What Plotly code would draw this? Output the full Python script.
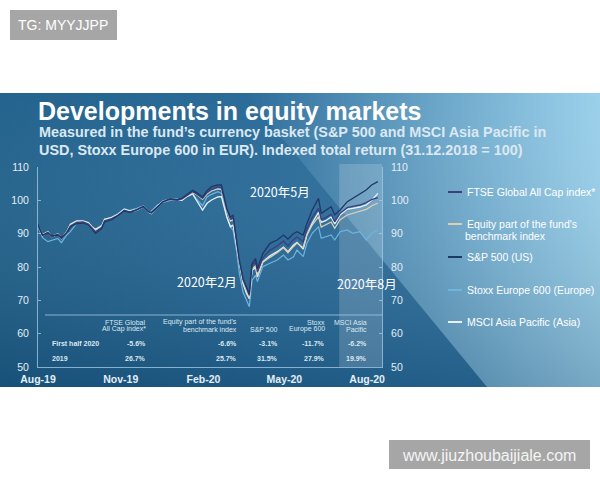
import base64
import plotly.graph_objects as go

# ---------------- data ----------------
dates = [
    "2019-08-01", "2019-08-06", "2019-08-12", "2019-08-16", "2019-08-23", "2019-08-27",
    "2019-09-02", "2019-09-06", "2019-09-13", "2019-09-20", "2019-09-26",
    "2019-10-01", "2019-10-04", "2019-10-11", "2019-10-14", "2019-10-22", "2019-10-29",
    "2019-11-05", "2019-11-11", "2019-11-19", "2019-11-26",
    "2019-12-02", "2019-12-05", "2019-12-12", "2019-12-18", "2019-12-26",
    "2020-01-03", "2020-01-08", "2020-01-14", "2020-01-20", "2020-01-24", "2020-01-31",
    "2020-02-05", "2020-02-10", "2020-02-17", "2020-02-21", "2020-02-27",
    "2020-03-02", "2020-03-05", "2020-03-09", "2020-03-12", "2020-03-16", "2020-03-20",
    "2020-03-23", "2020-03-26", "2020-03-30",
    "2020-04-01", "2020-04-07", "2020-04-15", "2020-04-23", "2020-04-30",
    "2020-05-05", "2020-05-11", "2020-05-15", "2020-05-22", "2020-05-26",
    "2020-06-01", "2020-06-08", "2020-06-11", "2020-06-16", "2020-06-22", "2020-06-26",
    "2020-07-02", "2020-07-10", "2020-07-16", "2020-07-24", "2020-07-31",
    "2020-08-06", "2020-08-13",
]

ftse = [
    92.4, 89.5, 90.4, 89.0, 89.8, 88.5, 90.4, 92.3, 93.4, 93.5,
    92.9, 91.3, 90.6, 91.9, 93.9, 94.5, 95.5, 97.0, 96.5, 97.1,
    98.1, 96.6, 96.2, 98.0, 99.5, 100.3, 100.1, 100.4, 101.6, 102.6,
    102.0, 100.6, 102.3, 103.3, 104.0, 103.8, 97.3, 94.4, 94.8, 87.2,
    82.0, 76.3, 73.5, 71.5, 80.5, 81.6, 78.6, 82.8, 85.0, 86.3,
    87.8, 86.3, 88.2, 89.0, 87.6, 91.5, 94.8, 97.6, 94.2, 94.8,
    95.8, 93.6, 96.1, 97.8, 98.2, 98.6, 99.3, 100.2, 100.8,
]
equity = [
    92.5, 89.7, 90.6, 89.2, 90.0, 88.7, 90.6, 92.5, 93.5, 93.6,
    93.0, 91.5, 90.9, 92.0, 94.0, 94.6, 95.6, 97.0, 96.6, 97.0,
    98.0, 96.6, 96.1, 98.0, 99.5, 100.2, 100.1, 100.2, 101.4, 102.4,
    101.8, 100.3, 101.9, 102.8, 103.4, 103.3, 96.9, 93.8, 94.2, 86.6,
    81.6, 75.6, 72.4, 70.6, 79.4, 80.4, 77.5, 81.4, 82.9, 84.3,
    85.8, 84.3, 86.1, 87.2, 85.8, 89.6, 92.6, 95.1, 92.0, 92.6,
    93.5, 91.6, 94.2, 95.6, 96.1, 96.6, 97.3, 98.3, 99.2,
]
sp500 = [
    92.8, 89.5, 90.2, 89.4, 89.6, 88.9, 90.3, 92.0, 93.0, 93.2,
    92.6, 91.0, 90.1, 91.6, 93.5, 94.2, 95.4, 96.8, 96.4, 97.2,
    98.2, 96.6, 96.3, 98.0, 99.6, 100.5, 100.2, 100.6, 101.9, 103.0,
    102.4, 101.0, 102.9, 104.1, 104.6, 104.6, 97.5, 95.0, 95.5, 87.5,
    82.0, 76.5, 74.0, 72.0, 81.0, 82.5, 79.5, 84.0, 87.1, 88.1,
    89.6, 88.4, 90.0, 90.6, 89.6, 93.0, 97.1, 100.6, 96.1, 97.0,
    98.1, 95.6, 97.1, 99.6, 100.6, 102.1, 103.1, 104.6, 105.6,
]
stoxx = [
    92.1, 88.8, 87.6, 88.0, 88.6, 87.3, 89.6, 90.6, 93.1, 93.6,
    92.6, 91.0, 91.3, 92.6, 94.3, 95.0, 96.0, 97.4, 97.0, 97.6,
    98.3, 96.4, 96.8, 98.6, 99.4, 100.0, 100.4, 100.0, 101.3, 102.0,
    100.5, 98.4, 101.0, 101.8, 102.6, 102.1, 95.0, 92.1, 91.0, 84.5,
    78.0, 72.5, 70.1, 68.1, 76.0, 77.5, 75.6, 80.1, 81.1, 82.1,
    83.6, 82.1, 83.0, 85.1, 83.1, 87.1, 90.1, 92.1, 88.6, 89.1,
    89.6, 88.1, 90.6, 91.1, 90.1, 90.6, 88.1, 90.1, 91.1,
]
msci = [
    92.6, 89.4, 90.5, 89.0, 89.8, 88.4, 90.5, 92.8, 93.8, 93.8,
    93.3, 91.8, 91.3, 92.3, 94.3, 94.8, 95.8, 97.3, 96.8, 97.2,
    98.2, 96.5, 96.0, 98.3, 99.8, 100.4, 100.3, 100.0, 101.2, 101.9,
    100.1, 97.1, 99.1, 100.1, 101.0, 101.1, 95.0, 92.1, 92.6, 85.8,
    81.0, 75.0, 72.0, 70.5, 79.0, 79.8, 77.0, 81.5, 83.4, 84.6,
    86.0, 84.6, 86.5, 87.4, 85.4, 89.6, 93.2, 96.4, 93.4, 93.9,
    95.0, 92.9, 95.6, 97.4, 97.6, 98.0, 98.6, 100.0, 102.1,
]

legend_labels = ["FTSE Global All Cap index*", "Equity part of the fund's", "S&P 500 (US)",
                 "Stoxx Europe 600 (Europe)", "MSCI Asia Pacific (Asia)"]
legend_label_extra = "benchmark index"

y_ticks = [50, 60, 70, 80, 90, 100, 110]
x_tick_dates = ["2019-08-01", "2019-11-01", "2020-02-01", "2020-05-01", "2020-08-01"]
x_tick_labels = ["Aug-19", "Nov-19", "Feb-20", "May-20", "Aug-20"]

table_head_1 = ["FTSE Global", "Equity part of the fund's", "", "Stoxx", "MSCI Asia"]
table_head_2 = ["All Cap index*", "benchmark index", "S&P 500", "Europe 600", "Pacific"]
row_labels = ["First half 2020", "2019"]
first_half_2020 = [-5.6, -6.6, -3.1, -11.7, -6.2]
year_2019 = [26.7, 25.7, 31.5, 27.9, 19.9]

title = "Developments in equity markets"
subtitle_1 = "Measured in the fund\u2019s currency basket (S&P 500 and MSCI Asia Pacific in"
subtitle_2 = "USD, Stoxx Europe 600 in EUR). Indexed total return (31.12.2018 = 100)"
marks = ["2020年5月", "2020年2月", "2020年8月"]

# ---------------- styling ----------------
W, H = 600, 480
def fx(px): return px / W
def fy(py): return 1 - py / H

FONT = "Liberation Sans, Arial, sans-serif"
CJK = "Noto Sans CJK SC, sans-serif"
TXT = "#e4eef5"
AXC = "rgba(170,205,232,0.75)"

colors = {
    "ftse": "#3a3f80",
    "equity": "#dccfb2",
    "sp": "#1f3866",
    "stoxx": "#6fb4de",
    "msci": "#e6f2f9",
}

series = [
    (stoxx, colors["stoxx"], 1.2),
    (msci, colors["msci"], 1.3),
    (equity, colors["equity"], 1.3),
    (ftse, colors["ftse"], 1.3),
    (sp500, colors["sp"], 1.3),
]

fig = go.Figure()
for vals, col, w in series:
    fig.add_trace(go.Scatter(x=dates, y=vals, mode="lines", line=dict(color=col, width=w),
                             showlegend=False, hoverinfo="skip", xaxis="x", yaxis="y"))
fig.add_trace(go.Scatter(x=[dates[0]], y=[y_ticks[0]], mode="markers", marker=dict(opacity=0),
                         showlegend=False, hoverinfo="skip", xaxis="x", yaxis="y2"))

# ---------------- panel background (SVG image) ----------------
svg = """<svg xmlns="http://www.w3.org/2000/svg" width="600" height="294" viewBox="0 0 600 294" preserveAspectRatio="none">
<defs>
<linearGradient id="h" x1="0" y1="0" x2="1" y2="0">
<stop offset="0" stop-color="#1c5e89"/>
<stop offset="0.5" stop-color="#266998"/>
<stop offset="0.8" stop-color="#2c709f"/>
<stop offset="1" stop-color="#3277a6"/>
</linearGradient>
<linearGradient id="l" x1="0" y1="0" x2="1" y2="0">
<stop offset="0" stop-color="#98cfea" stop-opacity="0"/>
<stop offset="1" stop-color="#98cfea" stop-opacity="1"/>
</linearGradient>
<linearGradient id="v" x1="0" y1="0" x2="0" y2="1">
<stop offset="0" stop-color="#ffffff" stop-opacity="0.03"/>
<stop offset="1" stop-color="#04213d" stop-opacity="0.22"/>
</linearGradient>
</defs>
<rect width="600" height="294" fill="url(#h)"/>
<polygon points="245,0 600,0 600,294 487,294" fill="url(#l)"/>
<rect width="600" height="294" fill="url(#v)"/>
</svg>"""
src = "data:image/svg+xml;base64," + base64.b64encode(svg.encode()).decode()

fig.add_layout_image(dict(source=src, xref="paper", yref="paper", x=0, y=fy(93),
                          sizex=1, sizey=294 / H, xanchor="left", yanchor="top",
                          sizing="stretch", layer="below"))

shapes = []
shapes.append(dict(type="rect", xref="x", yref="paper", x0="2020-07-01", x1="2020-08-17 14:00",
                   y0=fy(367), y1=fy(164), fillcolor="rgba(255,255,255,0.17)", line=dict(width=0),
                   layer="below"))
shapes.append(dict(type="line", xref="paper", yref="paper", x0=fx(45), x1=fx(382),
                   y0=fy(315), y1=fy(315), line=dict(color=AXC, width=1)))
shapes.append(dict(type="rect", xref="paper", yref="paper", x0=fx(10), x1=fx(117), y0=fy(40), y1=fy(10),
                   fillcolor="#a6a6a6", line=dict(width=0)))
shapes.append(dict(type="rect", xref="paper", yref="paper", x0=fx(389), x1=fx(590), y0=fy(469), y1=fy(440),
                   fillcolor="#a6a6a6", line=dict(width=0)))

ann = []
ann.append(dict(text="TG: MYYJJPP", x=fx(63), y=fy(25), xref="paper", yref="paper", showarrow=False,
                xanchor="center", yanchor="middle", font=dict(family=FONT, size=14, color="#ffffff")))
ann.append(dict(text="www.jiuzhoubaijiale.com", x=fx(489), y=fy(455), xref="paper", yref="paper",
                showarrow=False, xanchor="center", yanchor="middle",
                font=dict(family=FONT, size=16, color="#f4f4f4")))
ann.append(dict(text="<b>" + title + "</b>", x=fx(36), y=fy(111), xref="paper", yref="paper", showarrow=False,
                xanchor="left", yanchor="middle", font=dict(family=FONT, size=25, color="#ffffff")))
ann.append(dict(text="<b>" + subtitle_1 + "</b>", x=fx(37), y=fy(132), xref="paper", yref="paper",
                showarrow=False, xanchor="left", yanchor="middle",
                font=dict(family=FONT, size=14.4, color="#dbe8f1")))
ann.append(dict(text="<b>" + subtitle_2 + "</b>", x=fx(37), y=fy(150), xref="paper", yref="paper",
                showarrow=False, xanchor="left", yanchor="middle",
                font=dict(family=FONT, size=14.4, color="#dbe8f1")))
for t, (px, py) in zip(marks, [(280, 191), (207, 281), (367, 283)]):
    ann.append(dict(text=t, x=fx(px), y=fy(py), xref="paper", yref="paper", showarrow=False,
                    xanchor="center", yanchor="middle", font=dict(family=CJK, size=12.5, color="#ffffff")))

leg_cols = [colors["ftse"], colors["equity"], colors["sp"], colors["stoxx"], colors["msci"]]
leg_y = [192, 224, 257, 290, 322]
for lab, col, py in zip(legend_labels, leg_cols, leg_y):
    shapes.append(dict(type="line", xref="paper", yref="paper", x0=fx(448), x1=fx(462), y0=fy(py), y1=fy(py),
                       line=dict(color=col, width=2)))
    ann.append(dict(text=lab, x=fx(465), y=fy(py), xref="paper", yref="paper", showarrow=False,
                    xanchor="left", yanchor="middle", font=dict(family=FONT, size=10.5, color="#ffffff")))
ann.append(dict(text=legend_label_extra, x=fx(463), y=fy(236), xref="paper", yref="paper", showarrow=False,
                xanchor="left", yanchor="middle", font=dict(family=FONT, size=10.5, color="#ffffff")))

col_right = [148, 239, 280, 327, 369]
TF = dict(family=FONT, size=7, color="#dce8f0")
for h1, h2, xr in zip(table_head_1, table_head_2, col_right):
    if h1:
        ann.append(dict(text=h1, x=fx(xr), y=fy(322), xref="paper", yref="paper", showarrow=False,
                        xanchor="right", yanchor="middle", font=TF))
    ann.append(dict(text=h2, x=fx(xr), y=fy(329), xref="paper", yref="paper", showarrow=False,
                    xanchor="right", yanchor="middle", font=TF))
for lab, vals, py in zip(row_labels, [first_half_2020, year_2019], [343, 358]):
    ann.append(dict(text="<b>" + lab + "</b>", x=fx(50), y=fy(py), xref="paper", yref="paper", showarrow=False,
                    xanchor="left", yanchor="middle", font=TF))
    for v, xr in zip(vals, col_right):
        ann.append(dict(text="<b>%.1f%%</b>" % v, x=fx(xr), y=fy(py), xref="paper", yref="paper",
                        showarrow=False, xanchor="right", yanchor="middle", font=TF))

yaxis_common = dict(range=[50, 110], tickvals=y_ticks, ticks="inside", ticklen=3, tickcolor=AXC,
                    showline=True, linecolor=AXC, linewidth=1, showgrid=False, zeroline=False,
                    tickfont=dict(family=FONT, size=10.5, color=TXT), fixedrange=True, automargin=False)

fig.update_layout(
    width=W, height=H, margin=dict(l=0, r=0, t=0, b=0, pad=0, autoexpand=False),
    paper_bgcolor="#ffffff", plot_bgcolor="rgba(0,0,0,0)",
    showlegend=False,
    xaxis=dict(domain=[fx(38), fx(382)], range=["2019-08-01", "2020-08-17 14:00"],
               tickvals=x_tick_dates, ticktext=x_tick_labels, ticks="", showline=True,
               linecolor=AXC, linewidth=1, showgrid=False, zeroline=False, automargin=False,
               ticklabelstandoff=2,
               tickfont=dict(family=FONT, size=10.5, color=TXT, weight="bold"), anchor="y"),
    yaxis=dict(domain=[fy(367), fy(167)], side="left", anchor="x", ticklabelstandoff=6, **yaxis_common),
    yaxis2=dict(overlaying="y", side="right", anchor="x", ticklabelstandoff=6, **yaxis_common),
    shapes=shapes, annotations=ann,
)

fig.write_html("out.html")
